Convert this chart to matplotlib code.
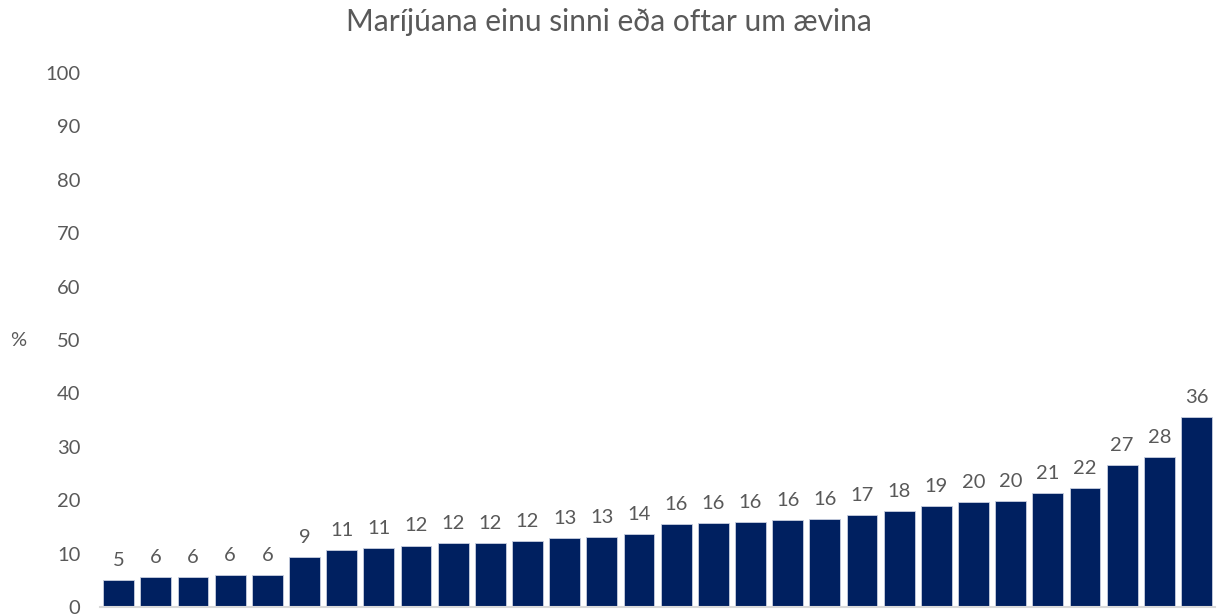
import numpy as np
import matplotlib
matplotlib.use("Agg")
import matplotlib.pyplot as plt

plt.rcParams['font.family'] = ['Lato', 'DejaVu Sans']

# values (sorted ascending)
values = [5.0, 5.6, 5.6, 5.9, 6.0, 9.4, 10.6, 11.1, 11.5, 11.9,
          12.0, 12.4, 12.9, 13.1, 13.6, 15.6, 15.8, 15.9, 16.2, 16.4,
          17.2, 17.9, 18.9, 19.6, 19.9, 21.4, 22.2, 26.6, 28.1, 35.6]
y_ticks = [0, 10, 20, 30, 40, 50, 60, 70, 80, 90, 100]
title = "Maríjúana einu sinni eða oftar um ævina"

bar_color = '#002060'
text_color = '#595959'

fig = plt.figure(figsize=(12.23, 6.16), dpi=100)
ax = fig.add_axes([0.0818, 0.0146, 0.9117, 0.8669])

x = np.arange(len(values))
ax.bar(x, values, width=0.83, color=bar_color, edgecolor='#c9cfe0', linewidth=0.6)

for xi, v in zip(x, values):
    ax.annotate(f"{v:.0f}", (xi, v), xytext=(0, 8), textcoords='offset points',
                ha='center', va='bottom', fontsize=14.5, color=text_color)

ax.set_xlim(-0.5, len(values) - 0.5)
ax.set_ylim(0, 100)
ax.set_yticks(y_ticks)
ax.set_yticklabels([str(t) for t in y_ticks], fontsize=14.5, color=text_color)
ax.tick_params(axis='y', length=0, pad=14)
ax.set_xticks([])

for side in ['top', 'right', 'left']:
    ax.spines[side].set_visible(False)
ax.spines['bottom'].set_color('#d9d9d9')
ax.spines['bottom'].set_linewidth(1.5)

fig.text(10 / 1223, (616 - 341) / 616, '%', fontsize=14.5, color=text_color,
         ha='left', va='center')
fig.text(609 / 1223, (616 - 22) / 616, title, fontsize=21.5, color=text_color,
         ha='center', va='center')

fig.savefig('out.png', dpi=100)
